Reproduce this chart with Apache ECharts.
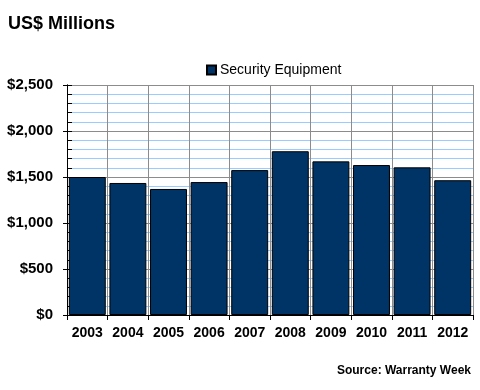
<!DOCTYPE html>
<html><head><meta charset="utf-8">
<script src="https://cdn.jsdelivr.net/npm/echarts@6/dist/echarts.min.js"></script>
<style>html,body{margin:0;padding:0;background:#fff}#c{width:480px;height:390px}</style>
</head><body><div id="c"></div>
<script>
const categories = ['2003','2004','2005','2006','2007','2008','2009','2010','2011','2012'];
const securityEquipment = [1500, 1435, 1370, 1445, 1575, 1780, 1670, 1630, 1605, 1465];
const seriesName = 'Security Equipment';
const titleText = 'US$ Millions';
const sourceText = 'Source: Warranty Week';

const font = 'Liberation Sans, Arial, sans-serif';
const chart = echarts.init(document.getElementById('c'), null, {renderer: 'canvas'});
chart.setOption({
  animation: false,
  backgroundColor: '#fff',
  title: [
    {text: titleText, left: 8, top: 15, padding: 0, textStyle: {fontFamily: font, fontSize: 18, fontWeight: 'bold', color: '#000'}},
    {text: sourceText, right: 9, top: 365, padding: 0, textStyle: {fontFamily: font, fontSize: 12, fontWeight: 'bold', color: '#000'}}
  ],
  legend: {
    data: [seriesName], left: 206, top: 63, padding: 0, itemWidth: 9, itemHeight: 9, itemGap: 5,
    icon: 'rect',
    textStyle: {fontFamily: font, fontSize: 14, color: '#000', padding: [0,0,0,-1]}
  },
  grid: {left: 67, right: 7, top: 85, bottom: 75, containLabel: false},
  xAxis: {
    type: 'category', data: categories,
    axisLine: {lineStyle: {color: '#000', width: 1}},
    axisTick: {show: true, length: 5, lineStyle: {color: '#000'}},
    axisLabel: {fontFamily: font, fontSize: 14, fontWeight: 'bold', color: '#000', margin: 11},
    splitLine: {show: true, lineStyle: {color: '#8c8c8c', width: 1}}
  },
  yAxis: [{
    type: 'value', min: 0, max: 2500, interval: 500,
    axisLine: {show: true, lineStyle: {color: '#000'}},
    axisTick: {show: true, inside: true, length: 5, lineStyle: {color: '#000'}},
    minorTick: {show: true, splitNumber: 5, length: 5, lineStyle: {color: '#000'}},
    minorSplitLine: {show: true, lineStyle: {color: '#99ccff', width: 1}},
    splitLine: {show: true, lineStyle: {color: '#8c8c8c', width: 1}},
    axisLabel: {fontFamily: font, fontSize: 15, fontWeight: 'bold', color: '#000', margin: 14,
      formatter: v => '$' + v.toLocaleString('en-US')}
  }, {
    type: 'value', min: 0, max: 2500, interval: 500, position: 'left',
    axisLine: {show: true, lineStyle: {color: '#000'}},
    axisTick: {show: true, inside: false, length: 4, lineStyle: {color: '#000'}},
    axisLabel: {show: false}, splitLine: {show: false}
  }],
  series: [{
    name: seriesName, type: 'bar', data: securityEquipment, yAxisIndex: 0,
    barCategoryGap: '9%',
    itemStyle: {color: '#003366', borderColor: '#000', borderWidth: 1}
  }]
});
</script></body></html>
